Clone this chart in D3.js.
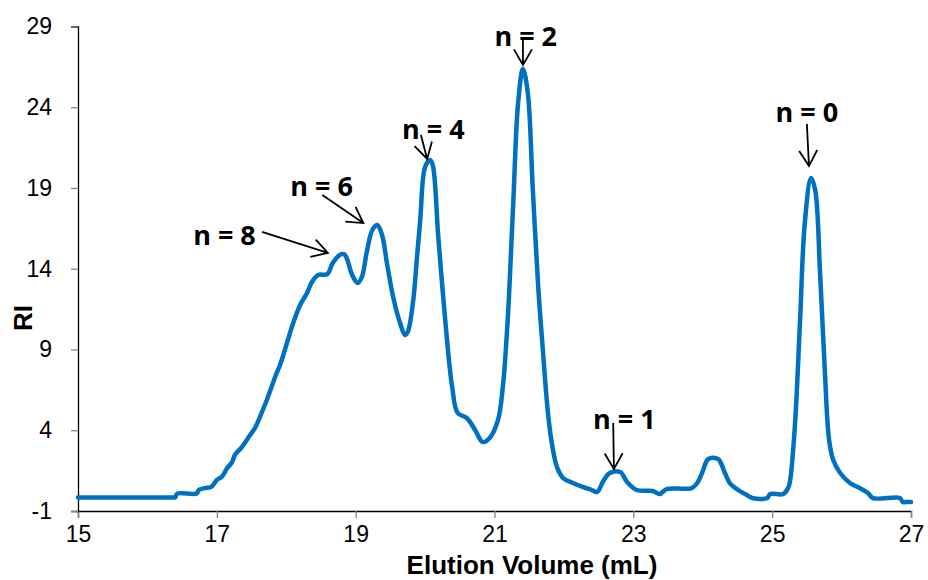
<!DOCTYPE html>
<html>
<head>
<meta charset="utf-8">
<script src="https://cdn.jsdelivr.net/npm/d3@7"></script>
<style>
  body { margin: 0; background: #fff; }
</style>
</head>
<body>
<div id="chart-container"></div>
<script>
// Elution volume (mL) and RI signal
const elutionVolume = [
  15.00, 15.70, 16.38, 16.40, 16.43, 16.71, 16.74, 16.83, 16.92, 17.00, 17.07, 17.15,
  17.22, 17.26, 17.36, 17.48, 17.55, 17.62, 17.72, 17.84, 17.91, 17.98,
  18.10, 18.20, 18.30, 18.37, 18.46, 18.59, 18.67, 18.77, 18.83, 18.87,
  18.95, 19.03, 19.09, 19.16, 19.24, 19.31, 19.38, 19.45, 19.54, 19.64,
  19.71, 19.75, 19.83, 19.88, 19.93, 20.00, 20.07, 20.11, 20.19, 20.29,
  20.39, 20.47, 20.60, 20.72, 20.83, 20.93, 21.05, 21.12, 21.19, 21.27,
  21.34, 21.41, 21.48, 21.55, 21.63, 21.70, 21.77, 21.83, 21.90, 21.99,
  22.13, 22.27, 22.40, 22.48, 22.56, 22.66, 22.81, 22.91, 23.05, 23.28,
  23.38, 23.48, 23.84, 23.92, 23.99, 24.08, 24.22, 24.32, 24.39, 24.51,
  24.61, 24.72, 24.93, 24.97, 25.16, 25.23, 25.26, 25.33, 25.40, 25.47,
  25.56, 25.62, 25.69, 25.76, 25.82, 25.88, 25.98, 26.12, 26.26, 26.38,
  26.45, 26.65, 26.84, 26.88, 26.95, 27.00
];
const riSignal = [
  -0.16, -0.16, -0.16, -0.16, 0.08, 0.08, 0.30, 0.42, 0.49, 0.92, 1.11, 1.66,
  2.03, 2.47, 2.96, 3.71, 4.14, 4.82, 5.87, 7.30, 8.04, 8.97,
  10.64, 11.76, 12.50, 13.18, 13.61, 13.67, 14.36, 14.85, 14.91, 14.67,
  13.61, 13.12, 13.49, 15.04, 16.40, 16.71, 16.09, 14.36, 12.25, 10.64,
  9.90, 10.08, 12.07, 14.54, 17.02, 20.30, 20.73, 20.42, 15.97, 10.83,
  6.68, 5.07, 4.76, 4.02, 3.27, 3.52, 4.63, 6.68, 10.83, 18.07,
  24.26, 26.37, 24.88, 19.06, 12.87, 8.78, 5.07, 3.09, 1.72, 1.04,
  0.73, 0.49, 0.30, 0.18, 0.80, 1.35, 1.41, 0.80, 0.30, 0.24,
  0.05, 0.36, 0.42, 0.73, 1.35, 2.22, 2.22, 1.35, 0.73, 0.30,
  0.05, -0.20, -0.20, 0.05, 0.05, 0.42, 0.92, 4.45, 10.64, 16.83,
  19.62, 18.88, 13.74, 7.55, 3.40, 2.16, 1.35, 0.73, 0.42, 0.11,
  -0.20, -0.20, -0.20, -0.44, -0.44, -0.44
];

// Axis ticks
const xTicks = [15, 17, 19, 21, 23, 25, 27];
const yTicks = [-1, 4, 9, 14, 19, 24, 29];

// Peak annotations (data units): label, text anchor, arrow tail, arrow tip
const peakLabels = ["n = 8", "n = 6", "n = 4", "n = 2", "n = 1", "n = 0"];
const labelX = [17.11, 18.51, 20.12, 21.45, 22.87, 25.50];
const labelY = [15.47, 18.50, 22.03, 27.79, 4.08, 23.09];
const tailX = [17.65, 18.52, 19.94, 21.41, 22.71, 25.50];
const tailY = [16.28, 18.57, 22.28, 28.16, 4.45, 22.96];
const tipX = [18.60, 19.11, 20.03, 21.41, 22.72, 25.53];
const tipY = [14.98, 16.83, 20.80, 26.62, 1.60, 20.36];

const createChromatogram = () => {
  const svgWidth = 928;
  const svgHeight = 580;
  const left = 78, right = 911, top = 26.5, bottom = 511;

  const xScale = d3.scaleLinear().domain([15, 27]).range([left, right]);
  const yScale = d3.scaleLinear().domain([-1, 29]).range([bottom, top]);

  const svg = d3.select("#chart-container")
    .append("svg")
    .attr("width", svgWidth)
    .attr("height", svgHeight)
    .style("font-family", "'Liberation Sans', Arial, sans-serif");

  // Step 1: axes (plain hyphen for the negative tick, as in the original)
  const xAxis = svg.append("g")
    .attr("transform", `translate(0, ${bottom})`)
    .call(d3.axisBottom(xScale).tickValues(xTicks).tickSize(7).tickPadding(8).tickFormat(d => String(d)));
  const yAxis = svg.append("g")
    .attr("transform", `translate(${left}, 0)`)
    .call(d3.axisLeft(yScale).tickValues(yTicks).tickSize(7).tickPadding(19).tickFormat(d => String(d)));

  [xAxis, yAxis].forEach(ax => {
    ax.select(".domain").attr("stroke", "#000").attr("stroke-width", 1.3);
    ax.selectAll(".tick line").attr("stroke", "#868686").attr("stroke-width", 1.3);
    ax.selectAll(".tick text")
      .attr("fill", "#000")
      .style("font-size", "23px");
  });

  // Step 2: axis titles
  svg.append("text")
    .text("Elution Volume (mL)")
    .attr("x", 532)
    .attr("y", 574)
    .attr("text-anchor", "middle")
    .style("font-weight", "bold")
    .style("font-size", "26px");

  svg.append("text")
    .text("RI")
    .attr("transform", "translate(32, 318) rotate(-90)")
    .attr("text-anchor", "middle")
    .style("font-weight", "bold")
    .style("font-size", "26px");

  // Step 3: the RI trace
  const points = elutionVolume.map((v, i) => [v, riSignal[i]]);
  const line = d3.line()
    .x(d => xScale(d[0]))
    .y(d => yScale(d[1]))
    .curve(d3.curveCatmullRom.alpha(0.5));

  svg.append("path")
    .datum(points)
    .attr("d", line)
    .attr("fill", "none")
    .attr("stroke", "#0070C0")
    .attr("stroke-width", 4.5)
    .attr("stroke-linejoin", "round")
    .attr("stroke-linecap", "round");

  // Step 4: peak labels with open arrowheads
  const notes = peakLabels.map((label, i) => ({
    label,
    tx: xScale(labelX[i]), ty: yScale(labelY[i]),
    x1: xScale(tailX[i]), y1: yScale(tailY[i]),
    x2: xScale(tipX[i]), y2: yScale(tipY[i])
  }));

  const note = svg.selectAll("g.note")
    .data(notes)
    .join("g")
    .attr("class", "note");

  note.append("text")
    .text(d => d.label)
    .attr("x", d => d.tx)
    .attr("y", d => d.ty)
    .attr("text-anchor", "middle")
    .style("font-family", "'Open Sans', sans-serif")
    .style("font-weight", "bold")
    .style("font-size", "27px")
    .style("fill", "#000");

  note.append("path")
    .attr("d", d => {
      const ang = Math.atan2(d.y2 - d.y1, d.x2 - d.x1);
      const len = 18, spread = Math.PI / 6;
      const a1 = ang + Math.PI - spread, a2 = ang + Math.PI + spread;
      return `M${d.x1},${d.y1}L${d.x2},${d.y2}` +
        `M${d.x2 + len * Math.cos(a1)},${d.y2 + len * Math.sin(a1)}L${d.x2},${d.y2}` +
        `L${d.x2 + len * Math.cos(a2)},${d.y2 + len * Math.sin(a2)}`;
    })
    .attr("fill", "none")
    .attr("stroke", "#000")
    .attr("stroke-width", 1.8);
};

createChromatogram();
</script>
</body>
</html>
